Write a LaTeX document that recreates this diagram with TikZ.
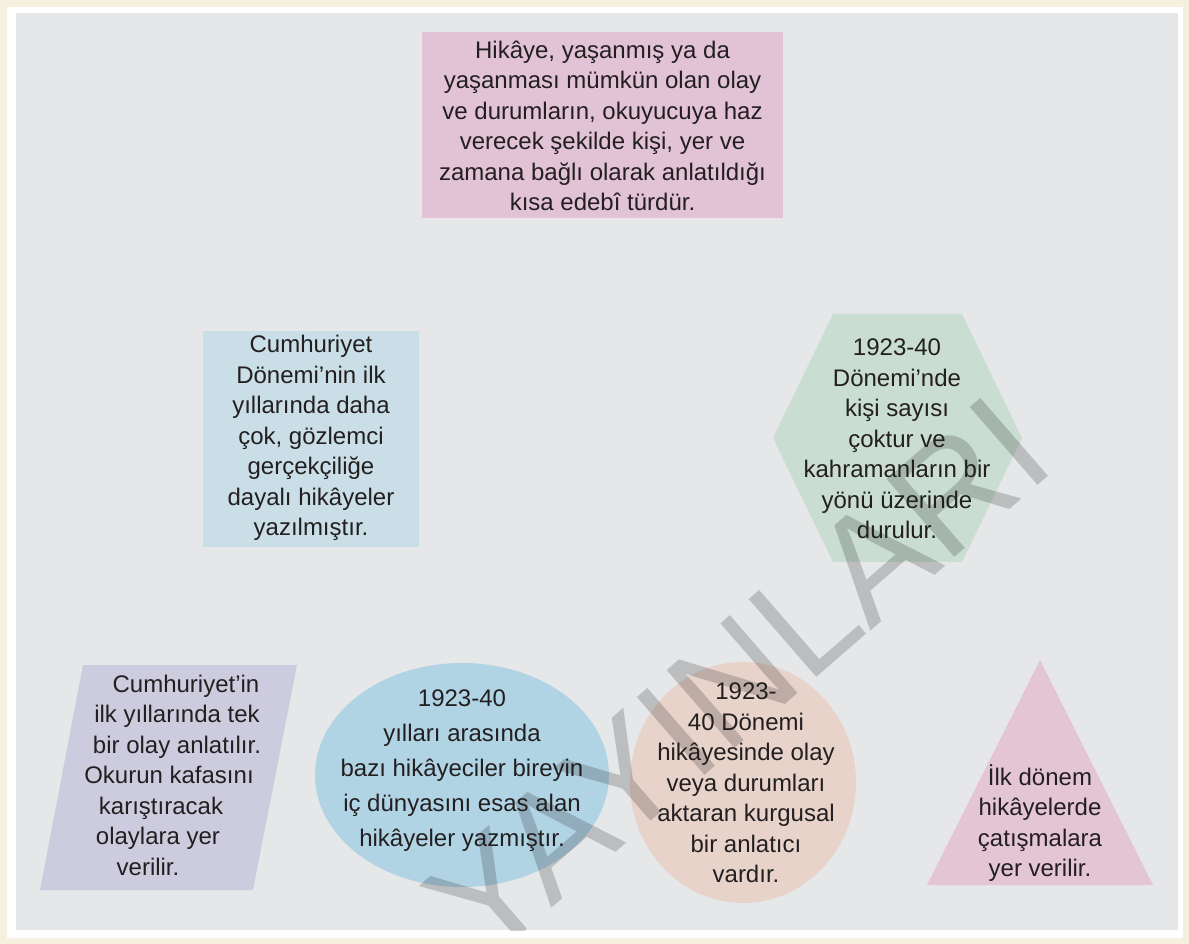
\documentclass[tikz,border=0pt]{standalone}
\usepackage{fontspec}
\setmainfont{Liberation Sans}
\definecolor{framec}{RGB}{245,241,222}
\definecolor{bgc}{RGB}{230,231,232}
\definecolor{pinkc}{RGB}{226,195,213}
\definecolor{bluec}{RGB}{202,222,231}
\definecolor{greenc}{RGB}{202,221,210}
\definecolor{lavc}{RGB}{205,204,222}
\definecolor{ellc}{RGB}{177,212,229}
\definecolor{peachc}{RGB}{231,211,202}
\definecolor{tric}{RGB}{227,197,212}
\definecolor{ink}{RGB}{35,31,32}
\begin{document}
\begin{tikzpicture}[x=0.75pt,y=-0.75pt,
  txt/.style={align=center, font=\fontsize{18}{22.9}\selectfont, text=ink, inner sep=0pt},
  wide/.style={align=center, font=\fontsize{18}{26.25}\selectfont, text=ink, inner sep=0pt},
  pline/.style={anchor=base, font=\fontsize{18}{22.9}\selectfont, text=ink, inner sep=0pt}]
\useasboundingbox (0,0) rectangle (1189,944);
\fill[framec] (0,0) rectangle (1189,944);
\fill[white] (7,7) rectangle (1183,938);
\fill[bgc] (16,13) rectangle (1178,930);
% shapes
\fill[pinkc] (422,32) rectangle (783,218);
\fill[bluec] (203,331) rectangle (419,547);
\fill[greenc] (833,314) -- (962,314) -- (1022,438) -- (962,562) -- (833,562) -- (773,438) -- cycle;
\fill[lavc] (83,665) -- (297,665) -- (253,890) -- (40,890) -- cycle;
\fill[ellc] (462,775) ellipse [x radius=110.25pt, y radius=84pt];
\fill[peachc] (743,782.5) ellipse [x radius=84.75pt, y radius=90.4pt];
\fill[tric] (1040,660) -- (1153,885) -- (927,885) -- cycle;
% watermark
\begin{scope}
\clip (16,13) rectangle (1178,930);
\node[rotate=41, text=black, text opacity=0.18, inner sep=0pt, font=\fontsize{112.5}{112.5}\selectfont] (wm) at (738,678) {YAYINLARI};
\end{scope}
% texts
\node[txt] (t1) at (602.5,126) {Hikâye, yaşanmış ya da\\yaşanması mümkün olan olay\\ve durumların, okuyucuya haz\\verecek şekilde kişi, yer ve\\zamana bağlı olarak anlatıldığı\\kısa edebî türdür.};
\node[txt] (t2) at (311,438) {Cumhuriyet\\Dönemi’nin ilk\\yıllarında daha\\çok, gözlemci\\gerçekçiliğe\\dayalı hikâyeler\\yazılmıştır.};
\node[txt] (t3) at (897,439) {1923-40\\Dönemi’nde\\kişi sayısı\\çoktur ve\\kahramanların bir\\yönü üzerinde\\durulur.};
\node[wide] (t4) at (462,771) {1923-40\\yılları arasında\\bazı hikâyeciler bireyin\\iç dünyasını esas alan\\hikâyeler yazmıştır.};
\node[txt] (t5) at (746,783) {1923-\\40 Dönemi\\hikâyesinde olay\\veya durumları\\aktaran kurgusal\\bir anlatıcı\\vardır.};
\node[txt] (t6) at (1040,823) {İlk dönem\\hikâyelerde\\çatışmalara\\yer verilir.};
\node[pline] (p1) at (186,692) {Cumhuriyet’in};
\node[pline] (p2) at (177,722.5) {ilk yıllarında tek};
\node[pline] (p3) at (177,753) {bir olay anlatılır.};
\node[pline] (p4) at (169,783.5) {Okurun kafasını};
\node[pline] (p5) at (161,814) {karıştıracak};
\node[pline] (p6) at (158,844.5) {olaylara yer};
\node[pline] (p7) at (148,875) {verilir.};
\end{tikzpicture}
\end{document}
